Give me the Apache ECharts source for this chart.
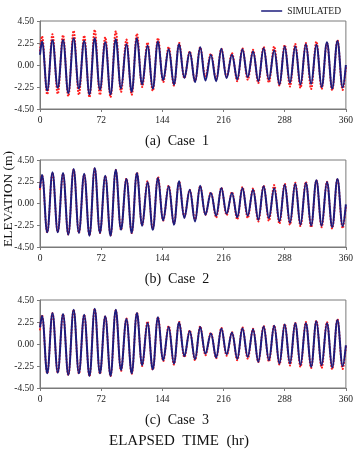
<!DOCTYPE html>
<html><head><meta charset="utf-8">
<script src="https://cdn.jsdelivr.net/npm/echarts@6/dist/echarts.min.js"></script>
<style>html,body{margin:0;padding:0;background:#fff}#c{width:356px;height:454px}</style>
</head><body><div id="c"></div>
<script>
// Time (hr) of start, each high/low water, and end
const times = [0, 2.3, 8.5, 14.7, 20.9, 27.1, 33.3, 39.6, 45.8, 52.0, 58.2, 64.4, 70.6, 76.8, 83.0, 89.2, 95.4, 101.7, 107.9, 114.1, 120.3, 126.5, 132.7, 138.9, 145.1, 151.4, 157.6, 163.8, 170.0, 176.2, 182.4, 188.6, 194.8, 201.1, 207.3, 213.5, 219.7, 225.9, 232.1, 238.3, 244.5, 250.7, 256.9, 263.2, 269.4, 275.6, 281.8, 288.0, 294.2, 300.4, 306.6, 312.9, 319.1, 325.3, 331.5, 337.7, 343.9, 350.1, 356.3, 360];

// Observed elevations (m)
const obsStart = 1.50, obsEnd = -0.30;
const obsPeaks = [2.95, 3.15, 3.05, 3.50, 3.00, 3.60, 2.85, 3.45, 2.60, 3.20, 2.30, 2.75, 1.85, 2.25, 1.40, 1.80, 1.15, 1.65, 1.20, 1.70, 1.55, 1.85, 1.90, 2.05, 2.15, 2.25, 2.40, 2.25, 2.55];
const obsTroughs = [-3.00, -2.95, -3.20, -3.05, -3.30, -3.05, -3.30, -2.75, -3.05, -2.25, -2.65, -1.75, -2.10, -1.35, -1.65, -1.15, -1.45, -1.20, -1.65, -1.50, -1.85, -1.80, -2.10, -2.20, -2.35, -2.45, -2.45, -2.60, -2.55];

// Simulated, Case 1
const c1Start = 1.05, c1End = 0.00;
const c1Peaks = [2.40, 2.53, 2.56, 2.73, 2.46, 2.73, 2.33, 2.63, 2.12, 2.73, 1.96, 2.40, 1.62, 2.12, 1.32, 1.82, 1.05, 1.65, 1.05, 1.62, 1.38, 1.72, 1.52, 1.89, 1.89, 2.12, 2.06, 2.33, 2.46];
const c1Troughs = [-2.60, -2.33, -2.87, -2.40, -3.00, -2.50, -3.00, -2.40, -2.73, -1.99, -2.40, -1.52, -1.99, -1.32, -1.75, -1.59, -1.65, -1.32, -1.48, -1.25, -1.65, -1.48, -1.99, -1.82, -1.99, -1.92, -2.26, -2.40, -2.30];

// Simulated, Case 2
const c2Start = 1.60, c2End = -0.10;
const c2Peaks = [2.98, 3.22, 3.16, 3.57, 3.09, 3.67, 2.88, 3.50, 2.53, 3.16, 2.19, 2.64, 1.78, 2.29, 1.43, 1.84, 1.09, 1.60, 1.09, 1.60, 1.43, 1.78, 1.57, 1.95, 2.05, 2.12, 2.40, 2.22, 2.53];
const c2Troughs = [-2.98, -2.98, -3.22, -3.05, -3.33, -3.05, -3.33, -2.71, -3.05, -2.29, -2.71, -1.74, -2.19, -1.50, -1.85, -1.16, -1.26, -1.05, -1.43, -1.26, -1.67, -1.50, -1.84, -2.00, -2.19, -2.29, -2.29, -2.43, -2.35];

// Simulated, Case 3
const c3Start = 1.70, c3End = -0.13;
const c3Peaks = [2.90, 3.17, 3.07, 3.51, 3.00, 3.61, 2.83, 3.51, 2.56, 3.17, 2.16, 2.73, 1.75, 2.19, 1.32, 1.75, 1.08, 1.59, 1.18, 1.62, 1.52, 1.79, 1.86, 1.99, 2.12, 2.12, 2.33, 2.12, 2.46];
const c3Troughs = [-3.00, -2.93, -3.17, -3.00, -3.27, -3.00, -3.27, -2.66, -3.00, -2.16, -2.60, -1.65, -1.99, -1.25, -1.55, -0.98, -1.38, -1.05, -1.52, -1.32, -1.82, -1.65, -1.99, -1.99, -2.16, -2.33, -2.16, -2.40, -2.26];

const xTicks = [0, 72, 144, 216, 288, 360];
const yTicks = [-4.50, -2.25, 0.00, 2.25, 4.50];
const captions = ['(a)  Case  1', '(b)  Case  2', '(c)  Case  3'];

function build(start, peaks, troughs, end) {
  const vals = [start];
  for (let i = 0; i < peaks.length; i++) { vals.push(peaks[i], troughs[i]); }
  vals.push(end);
  return times.map((t, i) => [t, vals[i]]);
}

const FONT = '"Liberation Serif", "Times New Roman", serif';
const BLUE = '#1c1c7c';
const RED = '#ff2020';
const AX = '#7a7a7a';
const layout = [{top: 21, height: 88, cap: 141}, {top: 160, height: 87, cap: 279}, {top: 300, height: 88, cap: 420.5}];
const obsData = build(obsStart, obsPeaks, obsTroughs, obsEnd);
const simData = [
  build(c1Start, c1Peaks, c1Troughs, c1End),
  build(c2Start, c2Peaks, c2Troughs, c2End),
  build(c3Start, c3Peaks, c3Troughs, c3End)
];

const chart = echarts.init(document.getElementById('c'), null, {renderer: 'canvas'});
const series = [];
layout.forEach((g, i) => {
  series.push({
    name: 'OBSERVED', type: 'line', xAxisIndex: i, yAxisIndex: i, data: obsData,
    smooth: 0.38, symbol: 'none', z: 2, color: RED,
    lineStyle: {color: RED, width: 2.1, type: [0.1, 3], cap: 'round'}
  });
  series.push({
    name: 'SIMULATED', type: 'line', xAxisIndex: i, yAxisIndex: i, data: simData[i],
    smooth: 0.38, symbol: 'none', z: 3, color: BLUE, itemStyle: {color: BLUE},
    lineStyle: {color: BLUE, width: 2}
  });
});

const graphic = layout.map((g, i) => ({
  type: 'text', x: 177, y: g.cap,
  style: {text: captions[i], font: '14px ' + FONT, align: 'center', verticalAlign: 'middle', fill: '#111'}
}));
graphic.push({type: 'text', x: 179, y: 441,
  style: {text: 'ELAPSED  TIME  (hr)', font: '15px ' + FONT, align: 'center', verticalAlign: 'middle', fill: '#111'}});
graphic.push({type: 'text', x: 8, y: 199, rotation: Math.PI / 2,
  style: {text: 'ELEVATION (m)', font: '13.5px ' + FONT, align: 'center', verticalAlign: 'middle', fill: '#111'}});

chart.setOption({
  animation: false,
  backgroundColor: '#fff',
  legend: {
    data: [{name: 'SIMULATED', icon: 'rect'}], top: 1, right: 10, itemWidth: 21, itemHeight: 1.5, itemGap: 6,
    itemStyle: {color: BLUE},
    textStyle: {fontFamily: FONT, fontSize: 9.5, color: '#222'}
  },
  grid: layout.map(g => ({left: 40, right: 9, top: g.top, height: g.height, show: true,
    borderColor: AX, borderWidth: 1, containLabel: false})),
  xAxis: layout.map((g, i) => ({
    gridIndex: i, type: 'value', min: xTicks[0], max: xTicks[xTicks.length - 1], interval: 72,
    axisLine: {show: true, onZero: false, lineStyle: {color: AX}},
    axisTick: {show: true, length: 3, lineStyle: {color: AX}},
    axisLabel: {fontFamily: FONT, fontSize: 9.5, color: '#222', margin: 6},
    splitLine: {show: false}
  })),
  yAxis: layout.map((g, i) => ({
    gridIndex: i, type: 'value', min: yTicks[0], max: yTicks[yTicks.length - 1], interval: 2.25,
    axisLine: {show: true, lineStyle: {color: AX}},
    axisTick: {show: true, length: 3, lineStyle: {color: AX}},
    axisLabel: {fontFamily: FONT, fontSize: 9.5, color: '#222', margin: 6,
      formatter: v => v.toFixed(2)},
    splitLine: {show: false}
  })),
  graphic: graphic,
  series: series
});
</script></body></html>
